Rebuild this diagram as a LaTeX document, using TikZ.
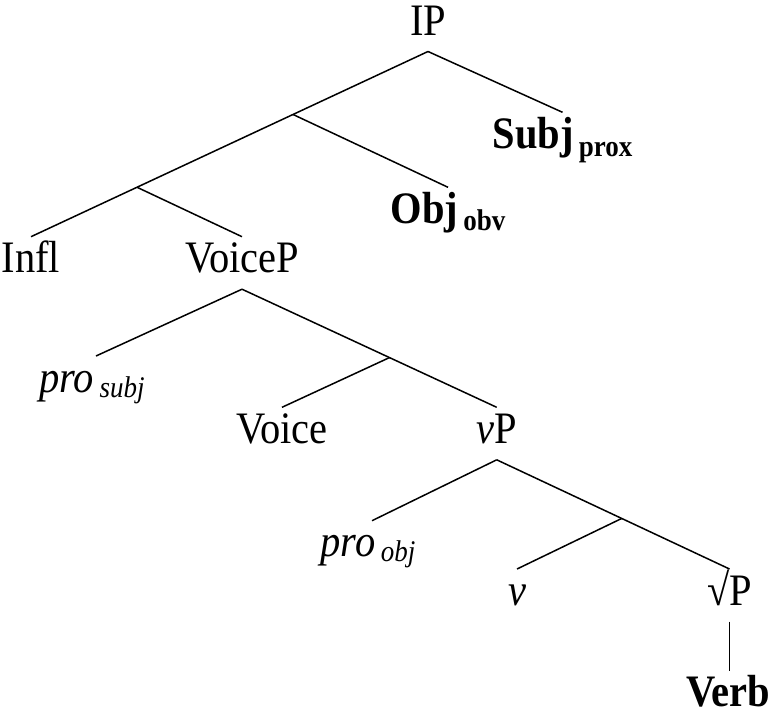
\documentclass[tikz,border=0pt]{standalone}
\usepackage{fontspec}
\setmainfont[FakeStretch=0.9]{Liberation Serif}
\usetikzlibrary{calc}
\newcommand\subx[2][8pt]{\hspace{0.12em}\raisebox{-#1}{\fontsize{30}{32}\selectfont #2}}
\begin{document}
\begin{tikzpicture}[x=1pt,y=-1pt,
  lbl/.style={anchor=base, inner sep=0pt, outer sep=0pt, text height=36pt, text depth=16.5pt, font=\fontsize{45}{50}\selectfont},
  edge/.style={line width=1.5pt, black}]
\useasboundingbox (0,0) rectangle (770,723);
\node[lbl] (IP) at (428,35) {IP};
\node[lbl] (subj) at (562.5,148.3) {\textbf{Subj\subx{prox}}};
\node[lbl] (obj) at (448,223.3) {\textbf{Obj\subx[7pt]{obv}}};
\node[lbl] (infl) at (31,272.7) {Infl};
\node[lbl] (voicep) at (242,272.7) {VoiceP};
\node[lbl] (prosubj) at (92,392) {\textit{pro\subx[5pt]{subj}}};
\node[lbl] (voice) at (282,443.3) {Voice};
\node[lbl] (vp) at (496.7,443.3) {\textit{v}P};
\node[lbl] (proobj) at (368,556.7) {\textit{pro\subx[5pt]{obj}}};
\node[lbl] (v) at (517,605) {\textit{v}};
\node[lbl] (rootp) at (729.5,605) {√P};
\node[lbl] (verb) at (728,706.7) {\textbf{Verb}};
\coordinate (m1) at ($(IP.south)!0.34!(infl.north)$);
\coordinate (m2) at ($(IP.south)!0.733!(infl.north)$);
\coordinate (m3) at ($(voicep.south)!0.579!(vp.north)$);
\coordinate (m4) at ($(vp.south)!0.537!(rootp.north)$);
\draw[edge] (IP.south) -- (subj.north);
\draw[edge] (IP.south) -- (infl.north);
\draw[edge] (m1) -- (obj.north);
\draw[edge] (m2) -- (voicep.north);
\draw[edge] (voicep.south) -- ([xshift=4pt]prosubj.north);
\draw[edge] (voicep.south) -- (vp.north);
\draw[edge] (m3) -- (voice.north);
\draw[edge] (vp.south) -- ([xshift=4pt]proobj.north);
\draw[edge] (vp.south) -- (rootp.north);
\draw[edge] (m4) -- (v.north);
\draw[edge] (rootp.south) -- (rootp.south |- verb.north);
\end{tikzpicture}
\end{document}
